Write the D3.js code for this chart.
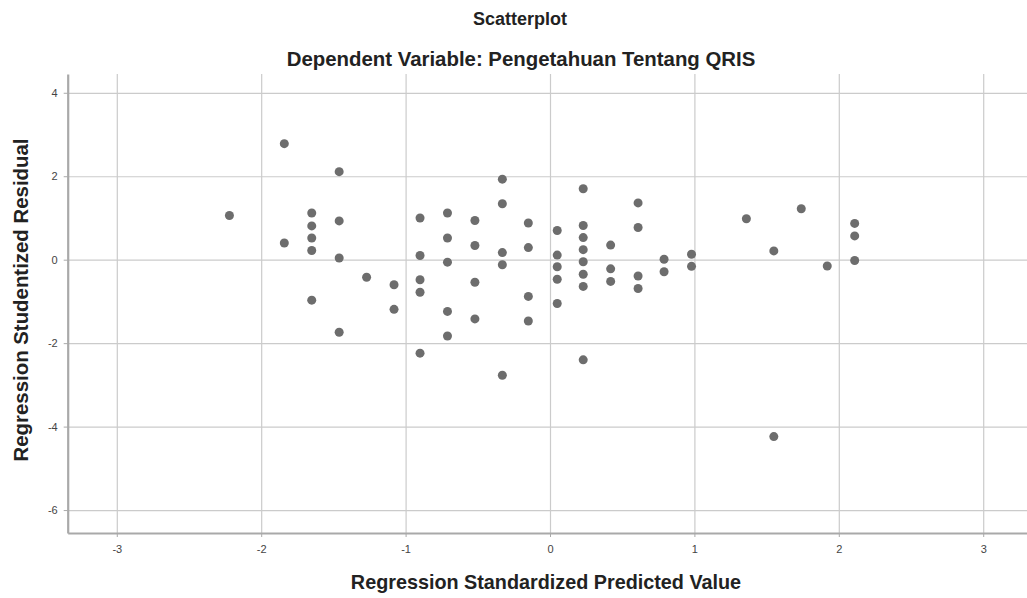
<!DOCTYPE html>
<html>
<head>
<meta charset="utf-8">
<script src="https://cdn.jsdelivr.net/npm/d3@7"></script>
<style>
  body { margin: 0; background: #fff; }
  svg { display: block; font-family: "Liberation Sans", Arial, sans-serif; }
</style>
</head>
<body>
<div id="graph"></div>
<script>
// Données
const predicted = [
  -2.22,
  -1.84, -1.84,
  -1.65, -1.65, -1.65, -1.65, -1.65,
  -1.46, -1.46, -1.46, -1.46,
  -1.27,
  -1.08, -1.08,
  -0.90, -0.90, -0.90, -0.90, -0.90,
  -0.71, -0.71, -0.71, -0.71, -0.71,
  -0.52, -0.52, -0.52, -0.52,
  -0.33, -0.33, -0.33, -0.33, -0.33,
  -0.15, -0.15, -0.15, -0.15,
  0.05, 0.05, 0.05, 0.05, 0.05,
  0.23, 0.23, 0.23, 0.23, 0.23, 0.23, 0.23, 0.23,
  0.42, 0.42, 0.42,
  0.61, 0.61, 0.61, 0.61,
  0.79, 0.79,
  0.98, 0.98,
  1.36,
  1.55, 1.55,
  1.74,
  1.92,
  2.11, 2.11, 2.11
];
const residual = [
  1.06,
  2.78, 0.40,
  1.12, 0.81, 0.52, 0.22, -0.97,
  2.11, 0.93, 0.04, -1.74,
  -0.42,
  -0.60, -1.19,
  1.00, 0.10, -0.48, -0.78, -2.24,
  1.12, 0.52, -0.06, -1.24, -1.83,
  0.94, 0.34, -0.54, -1.42,
  1.93, 1.34, 0.17, -0.12, -2.77,
  0.88, 0.29, -0.88, -1.47,
  0.70, 0.11, -0.17, -0.47, -1.05,
  1.70, 0.82, 0.53, 0.24, -0.05, -0.35, -0.64, -2.40,
  0.35, -0.22, -0.52,
  1.36, 0.77, -0.39, -0.69,
  0.01, -0.29,
  0.13, -0.16,
  0.98,
  0.21, -4.24,
  1.22,
  -0.15,
  0.87, 0.57, -0.02
];
const xTicks = [-3, -2, -1, 0, 1, 2, 3];
const yTicks = [-6, -4, -2, 0, 2, 4];

const title = "Scatterplot";
const subtitle = "Dependent Variable: Pengetahuan Tentang QRIS";
const xTitle = "Regression Standardized Predicted Value";
const yTitle = "Regression Studentized Residual";

const W = 1027, H = 598;
const plot = { left: 67.7, right: 1032.3, top: 74, bottom: 533 };

const svg = d3.select("#graph")
  .append("svg")
  .attr("width", W)
  .attr("height", H);

// Échelles
const xScale = d3.scaleLinear().domain([-3.34, 3.34]).range([plot.left, plot.right]);
const yScale = d3.scaleLinear().domain([-6.55, 4.45]).range([plot.bottom, plot.top]);

// Grille
svg.append("g")
  .attr("class", "grid-x")
  .attr("transform", `translate(0,${plot.bottom})`)
  .call(d3.axisBottom(xScale).tickValues(xTicks).tickSize(-(plot.bottom - plot.top)).tickFormat(""))
  .call(g => g.select(".domain").remove())
  .call(g => g.selectAll("line").attr("stroke", "#cbcbcb").attr("stroke-width", 1.2));

svg.append("g")
  .attr("class", "grid-y")
  .attr("transform", `translate(${plot.left},0)`)
  .call(d3.axisLeft(yScale).tickValues(yTicks).tickSize(-(plot.right - plot.left)).tickFormat(""))
  .call(g => g.select(".domain").remove())
  .call(g => g.selectAll("line").attr("stroke", "#cbcbcb").attr("stroke-width", 1.2));

// Axes
const fmt = d => String(d);

const xAxis = svg.append("g")
  .attr("transform", `translate(0,${plot.bottom})`)
  .call(d3.axisBottom(xScale).tickValues(xTicks).tickFormat(fmt).tickSize(4).tickPadding(8).tickSizeOuter(0));

const yAxis = svg.append("g")
  .attr("transform", `translate(${plot.left},0)`)
  .call(d3.axisLeft(yScale).tickValues(yTicks).tickFormat(fmt).tickSize(4).tickPadding(6).tickSizeOuter(0));

[xAxis, yAxis].forEach(ax => {
  ax.select(".domain").attr("stroke", "#a9a9a9").attr("stroke-width", 2.2);
  ax.selectAll(".tick line").attr("stroke", "#a9a9a9");
  ax.selectAll(".tick text")
    .attr("fill", "#444")
    .style("font-size", "11px")
    .style("font-family", "'Liberation Sans', Arial, sans-serif");
});

// Points
svg.append("g")
  .selectAll("circle")
  .data(predicted.map((x, i) => ({ x: x, y: residual[i] })))
  .enter()
  .append("circle")
  .attr("cx", d => xScale(d.x))
  .attr("cy", d => yScale(d.y))
  .attr("r", 4.5)
  .attr("fill", "#6d6d6d");

// Titres
svg.append("text")
  .attr("x", 520)
  .attr("y", 25)
  .attr("text-anchor", "middle")
  .style("font-size", "18px")
  .style("font-weight", "bold")
  .attr("fill", "#222")
  .text(title);

svg.append("text")
  .attr("x", 521)
  .attr("y", 66)
  .attr("text-anchor", "middle")
  .style("font-size", "20.4px")
  .style("font-weight", "bold")
  .attr("fill", "#222")
  .text(subtitle);

svg.append("text")
  .attr("x", 546)
  .attr("y", 589)
  .attr("text-anchor", "middle")
  .style("font-size", "19.8px")
  .style("font-weight", "bold")
  .attr("fill", "#222")
  .text(xTitle);

svg.append("text")
  .attr("transform", "rotate(-90)")
  .attr("x", -300)
  .attr("y", 28)
  .attr("text-anchor", "middle")
  .style("font-size", "20.4px")
  .style("font-weight", "bold")
  .attr("fill", "#222")
  .text(yTitle);
</script>
</body>
</html>
